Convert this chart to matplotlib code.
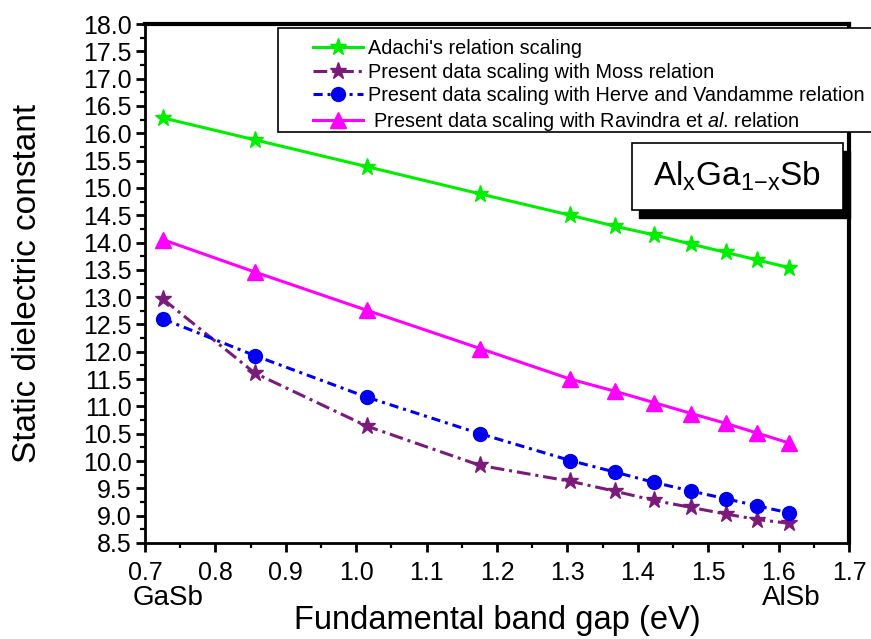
import matplotlib
matplotlib.use("Agg")
import matplotlib.pyplot as plt
from matplotlib.patches import Rectangle
from matplotlib.ticker import MultipleLocator, FormatStrFormatter
import matplotlib.transforms as mtransforms

plt.rcParams['font.family'] = ['Liberation Sans', 'DejaVu Sans']
plt.rcParams['mathtext.fontset'] = 'custom'
plt.rcParams['mathtext.rm'] = 'Liberation Sans'
plt.rcParams['mathtext.it'] = 'Liberation Sans:italic'

# band gap of Al(x)Ga(1-x)Sb from GaSb to AlSb (eV)
band_gap = [0.726, 0.856, 1.015, 1.176, 1.304, 1.367, 1.423, 1.476, 1.525, 1.570, 1.615]

eps_adachi = [16.28, 15.88, 15.39, 14.89, 14.50, 14.30, 14.14, 13.97, 13.82, 13.68, 13.54]
eps_moss = [12.96, 11.61, 10.64, 9.92, 9.63, 9.45, 9.28, 9.15, 9.03, 8.93, 8.86]
eps_herve = [12.60, 11.93, 11.17, 10.50, 10.01, 9.80, 9.61, 9.45, 9.31, 9.18, 9.05]
eps_ravindra = [14.05, 13.46, 12.76, 12.06, 11.50, 11.28, 11.07, 10.87, 10.69, 10.51, 10.33]

labels = [
    "Adachi's relation scaling",
    "Present data scaling with Moss relation",
    "Present data scaling with Herve and Vandamme relation",
    r" Present data scaling with Ravindra et $\it{al}$. relation",
]

W, H = 871, 639


def px(x, y):
    """pixel position (origin top-left) -> figure fraction"""
    return x / W, 1 - y / H


fig = plt.figure(figsize=(W / 100, H / 100), dpi=100, facecolor='white')
left, top = px(145, 24)
right, bottom = px(849, 543)
ax = fig.add_axes([left, bottom, right - left, top - bottom])

ax.plot(band_gap, eps_adachi, color='#00ee00', lw=2.2, marker='*', ms=12.5,
        label=labels[0], zorder=3)
ax.plot(band_gap, eps_moss, color='#7b1a7b', lw=2.2, ls=(0, (4.5, 1.6, 1, 1.6)),
        marker='*', ms=12.5, label=labels[1], zorder=3)
ax.plot(band_gap, eps_herve, color='#0000ee', lw=2.2, ls=(0, (3, 1.6, 1, 1.6)),
        marker='o', ms=10, label=labels[2], zorder=3)
ax.plot(band_gap, eps_ravindra, color='#ff00ff', lw=2.2, marker='^', ms=11.5,
        label=labels[3], zorder=3)

ax.set_xlim(0.7, 1.7)
ax.set_ylim(8.5, 18.0)
ax.xaxis.set_major_locator(MultipleLocator(0.1))
ax.xaxis.set_minor_locator(MultipleLocator(0.05))
ax.yaxis.set_major_locator(MultipleLocator(0.5))
ax.yaxis.set_minor_locator(MultipleLocator(0.25))
ax.xaxis.set_major_formatter(FormatStrFormatter('%.1f'))
ax.yaxis.set_major_formatter(FormatStrFormatter('%.1f'))
ax.tick_params(which='major', direction='out', length=6.5, width=2, labelsize=18)
ax.tick_params(which='minor', direction='out', length=3.5, width=1.6)
ax.tick_params(axis='x', which='major', pad=6.5)
ax.tick_params(axis='y', which='major', pad=3)

for side in ('left', 'bottom'):
    ax.spines[side].set_linewidth(2)
for side in ('top', 'right'):
    ax.spines[side].set_linewidth(3)

# axis titles placed directly in axes coordinates
ax.text(0.5, (543 - 621) / 519, 'Fundamental band gap (eV)', transform=ax.transAxes,
        ha='center', va='center', fontsize=23.5)
ax.text(-(145 - 28) / 704, 0.5, 'Static dielectric constant', transform=ax.transAxes,
        ha='center', va='center', rotation=90, fontsize=24)

# end-member compounds under the axis
trans = mtransforms.blended_transform_factory(ax.transData, ax.transAxes)
ax.text(0.733, (543 - 598) / 519, 'GaSb', transform=trans, ha='center', va='center',
        fontsize=20)
ax.text(1.618, (543 - 598) / 519, 'AlSb', transform=trans, ha='center', va='center',
        fontsize=20)

# legend frame reaching past the right edge
x0, y0 = px(278, 132)
x1, y1 = px(880, 28)
fig.patches.append(Rectangle((x0, y0), x1 - x0, y1 - y0, transform=fig.transFigure,
                             facecolor='white', edgecolor='black', lw=1.2,
                             zorder=5))
leg = fig.legend(loc='upper left', bbox_to_anchor=px(309, 35), frameon=False,
                 fontsize=14.3, handlelength=2.5, handletextpad=0.25,
                 labelspacing=0.23, borderpad=0.2, borderaxespad=0)
leg.set_zorder(6)

# composition label with drop shadow
sx0, sy0 = px(639, 218)
sx1, sy1 = px(850, 151)
fig.patches.append(Rectangle((sx0, sy0), sx1 - sx0, sy1 - sy0, transform=fig.transFigure,
                             facecolor='black', edgecolor='black', zorder=5))
bx0, by0 = px(632, 210)
bx1, by1 = px(843, 143)
fig.patches.append(Rectangle((bx0, by0), bx1 - bx0, by1 - by0, transform=fig.transFigure,
                             facecolor='white', edgecolor='black', lw=1.2, zorder=5))
cx, cy = px(737, 176)
fig.text(cx, cy, r'$\mathrm{Al_xGa_{1{-}x}Sb}$', ha='center', va='center',
         fontsize=24, zorder=7)

fig.savefig('out.png', dpi=100, facecolor='white')
